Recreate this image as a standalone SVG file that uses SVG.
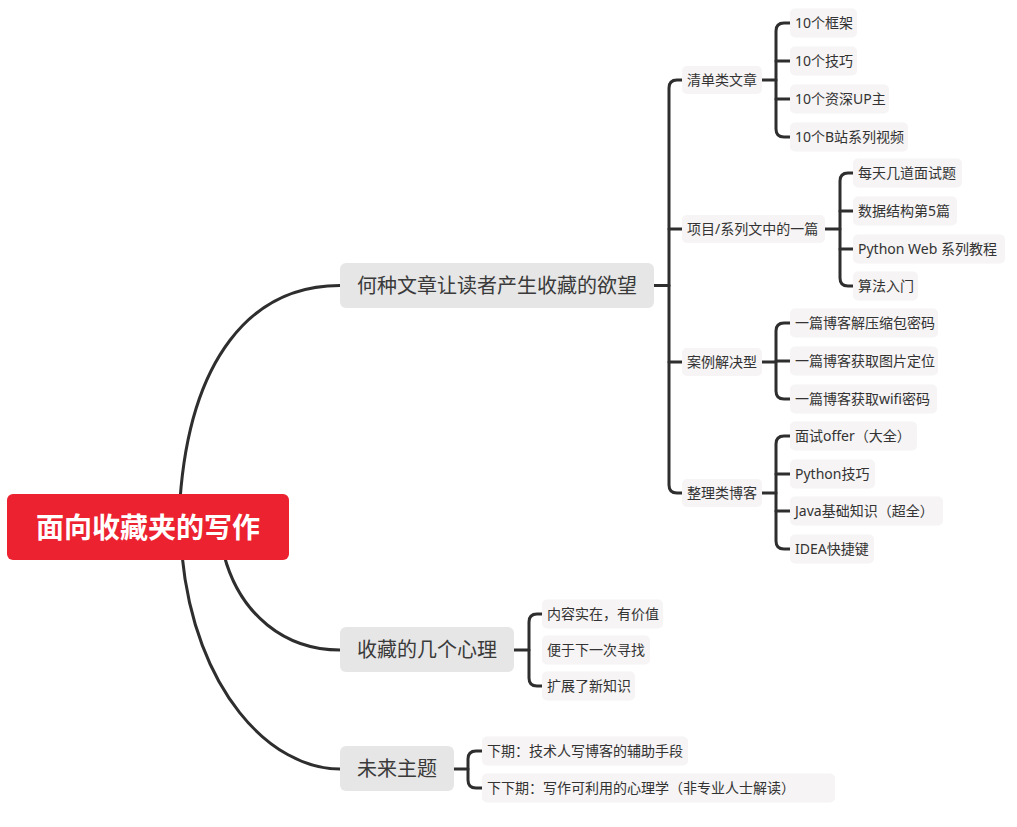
<svg xmlns="http://www.w3.org/2000/svg" width="1017" height="827" viewBox="0 0 1017 827">
<style>
  .conn { fill: none; stroke: #2e2e2e; stroke-width: 3; stroke-linecap: round; stroke-linejoin: round; }
  .root-box { fill: #ec2230; }
  .root-txt { font-family: "Noto Sans CJK SC", "Noto Sans", sans-serif; font-size: 28px; font-weight: bold; fill: #ffffff; text-anchor: middle; }
  .l1-box { fill: #e6e6e6; }
  .l1-txt { font-family: "Noto Sans", "Noto Sans CJK SC", sans-serif; font-size: 20px; fill: #3a3a3a; }
  .leaf-box { fill: #f6f4f4; }
  .leaf-txt { font-family: "Noto Sans", "Noto Sans CJK SC", sans-serif; font-size: 14px; fill: #333333; }
</style>
<rect width="1017" height="827" fill="#ffffff"/>

<g id="connectors">
  <path class="conn" d="M180,500 C190,360 250,285.5 340,285.5"/>
  <path class="conn" d="M224,555 C240,615 285,650 340,650"/>
  <path class="conn" d="M182,555 C195,690 270,769 340,769"/>
  <path class="conn" d="M653,285.5 L669,285.5"/>
  <path class="conn" d="M682,80 L677,80 Q669,80 669,88 L669,485 Q669,493 677,493 L682,493"/>
  <path class="conn" d="M669,229 L682,229 M669,362 L682,362"/>
  <path class="conn" d="M762,80 L776,80"/>
  <path class="conn" d="M790,23 L784,23 Q776,23 776,31 L776,129 Q776,137 784,137 L790,137"/>
  <path class="conn" d="M776,61 L790,61 M776,99 L790,99"/>
  <path class="conn" d="M825,229 L840,229"/>
  <path class="conn" d="M853,173 L848,173 Q840,173 840,181 L840,278 Q840,286 848,286 L853,286"/>
  <path class="conn" d="M840,211 L853,211 M840,249 L853,249"/>
  <path class="conn" d="M762,362 L776,362"/>
  <path class="conn" d="M790,323 L784,323 Q776,323 776,331 L776,391 Q776,399 784,399 L790,399"/>
  <path class="conn" d="M776,361 L790,361"/>
  <path class="conn" d="M762,493 L776,493"/>
  <path class="conn" d="M790,436 L784,436 Q776,436 776,444 L776,541 Q776,549 784,549 L790,549"/>
  <path class="conn" d="M776,474 L790,474 M776,511 L790,511"/>
  <path class="conn" d="M514,650 L529,650"/>
  <path class="conn" d="M542,614 L537,614 Q529,614 529,622 L529,678 Q529,686 537,686 L542,686"/>
  <path class="conn" d="M454,769 L468,769"/>
  <path class="conn" d="M482,751 L476,751 Q468,751 468,759 L468,780 Q468,788 476,788 L482,788"/>
</g>

<g id="root">
  <rect class="root-box" x="7" y="494" width="282" height="66" rx="6"/>
  <text class="root-txt" x="148" y="538">面向收藏夹的写作</text>
</g>

<g id="n1">
  <rect class="l1-box" x="340" y="263" width="314" height="45" rx="6"/>
  <text class="l1-txt" x="357" y="293">何种文章让读者产生收藏的欲望</text>
</g>
<g id="n2">
  <rect class="l1-box" x="340" y="627" width="174" height="45" rx="6"/>
  <text class="l1-txt" x="357" y="657">收藏的几个心理</text>
</g>
<g id="n3">
  <rect class="l1-box" x="340" y="746" width="114" height="45" rx="6"/>
  <text class="l1-txt" x="357" y="776">未来主题</text>
</g>

<g id="n1-1">
  <rect class="leaf-box" x="682" y="66" width="80" height="28" rx="5"/>
  <text class="leaf-txt" x="687" y="85">清单类文章</text>
</g>
<g id="n1-2">
  <rect class="leaf-box" x="682" y="215" width="143" height="28" rx="5"/>
  <text class="leaf-txt" x="687" y="234">项目/系列文中的一篇</text>
</g>
<g id="n1-3">
  <rect class="leaf-box" x="682" y="348" width="80" height="28" rx="5"/>
  <text class="leaf-txt" x="687" y="367">案例解决型</text>
</g>
<g id="n1-4">
  <rect class="leaf-box" x="682" y="479" width="80" height="28" rx="5"/>
  <text class="leaf-txt" x="687" y="498">整理类博客</text>
</g>

<g id="leaf-a1">
  <rect class="leaf-box" x="790" y="8.5" width="67" height="29" rx="5"/>
  <text class="leaf-txt" x="795" y="28">10个框架</text>
</g>
<g id="leaf-a2">
  <rect class="leaf-box" x="790" y="46.5" width="67" height="29" rx="5"/>
  <text class="leaf-txt" x="795" y="66">10个技巧</text>
</g>
<g id="leaf-a3">
  <rect class="leaf-box" x="790" y="84.5" width="99" height="29" rx="5"/>
  <text class="leaf-txt" x="795" y="104">10个资深UP主</text>
</g>
<g id="leaf-a4">
  <rect class="leaf-box" x="790" y="122.5" width="118" height="29" rx="5"/>
  <text class="leaf-txt" x="795" y="142">10个B站系列视频</text>
</g>

<g id="leaf-b1">
  <rect class="leaf-box" x="853" y="158.5" width="109" height="29" rx="5"/>
  <text class="leaf-txt" x="858" y="178">每天几道面试题</text>
</g>
<g id="leaf-b2">
  <rect class="leaf-box" x="853" y="196.5" width="104" height="29" rx="5"/>
  <text class="leaf-txt" x="858" y="216">数据结构第5篇</text>
</g>
<g id="leaf-b3">
  <rect class="leaf-box" x="853" y="234.5" width="152" height="29" rx="5"/>
  <text class="leaf-txt" x="858" y="254">Python Web 系列教程</text>
</g>
<g id="leaf-b4">
  <rect class="leaf-box" x="853" y="271.5" width="65" height="29" rx="5"/>
  <text class="leaf-txt" x="858" y="291">算法入门</text>
</g>

<g id="leaf-c1">
  <rect class="leaf-box" x="790" y="308.5" width="148" height="29" rx="5"/>
  <text class="leaf-txt" x="795" y="328">一篇博客解压缩包密码</text>
</g>
<g id="leaf-c2">
  <rect class="leaf-box" x="790" y="346.5" width="148" height="29" rx="5"/>
  <text class="leaf-txt" x="795" y="366">一篇博客获取图片定位</text>
</g>
<g id="leaf-c3">
  <rect class="leaf-box" x="790" y="384.5" width="147" height="29" rx="5"/>
  <text class="leaf-txt" x="795" y="404">一篇博客获取wifi密码</text>
</g>

<g id="leaf-d1">
  <rect class="leaf-box" x="790" y="421.5" width="127" height="29" rx="5"/>
  <text class="leaf-txt" x="795" y="441">面试offer（大全）</text>
</g>
<g id="leaf-d2">
  <rect class="leaf-box" x="790" y="459.5" width="85" height="29" rx="5"/>
  <text class="leaf-txt" x="795" y="479">Python技巧</text>
</g>
<g id="leaf-d3">
  <rect class="leaf-box" x="790" y="496.5" width="153" height="29" rx="5"/>
  <text class="leaf-txt" x="795" y="516">Java基础知识（超全）</text>
</g>
<g id="leaf-d4">
  <rect class="leaf-box" x="790" y="534.5" width="84" height="29" rx="5"/>
  <text class="leaf-txt" x="795" y="554">IDEA快捷键</text>
</g>

<g id="leaf-e1">
  <rect class="leaf-box" x="542" y="599.5" width="121" height="29" rx="5"/>
  <text class="leaf-txt" x="547" y="619">内容实在，有价值</text>
</g>
<g id="leaf-e2">
  <rect class="leaf-box" x="542" y="635.5" width="108" height="29" rx="5"/>
  <text class="leaf-txt" x="547" y="655">便于下一次寻找</text>
</g>
<g id="leaf-e3">
  <rect class="leaf-box" x="542" y="671.5" width="93" height="29" rx="5"/>
  <text class="leaf-txt" x="547" y="691">扩展了新知识</text>
</g>

<g id="leaf-f1">
  <rect class="leaf-box" x="482" y="736.5" width="206" height="29" rx="5"/>
  <text class="leaf-txt" x="487" y="756">下期：技术人写博客的辅助手段</text>
</g>
<g id="leaf-f2">
  <rect class="leaf-box" x="482" y="773.5" width="353" height="29" rx="5"/>
  <text class="leaf-txt" x="487" y="793">下下期：写作可利用的心理学（非专业人士解读）</text>
</g>
</svg>
